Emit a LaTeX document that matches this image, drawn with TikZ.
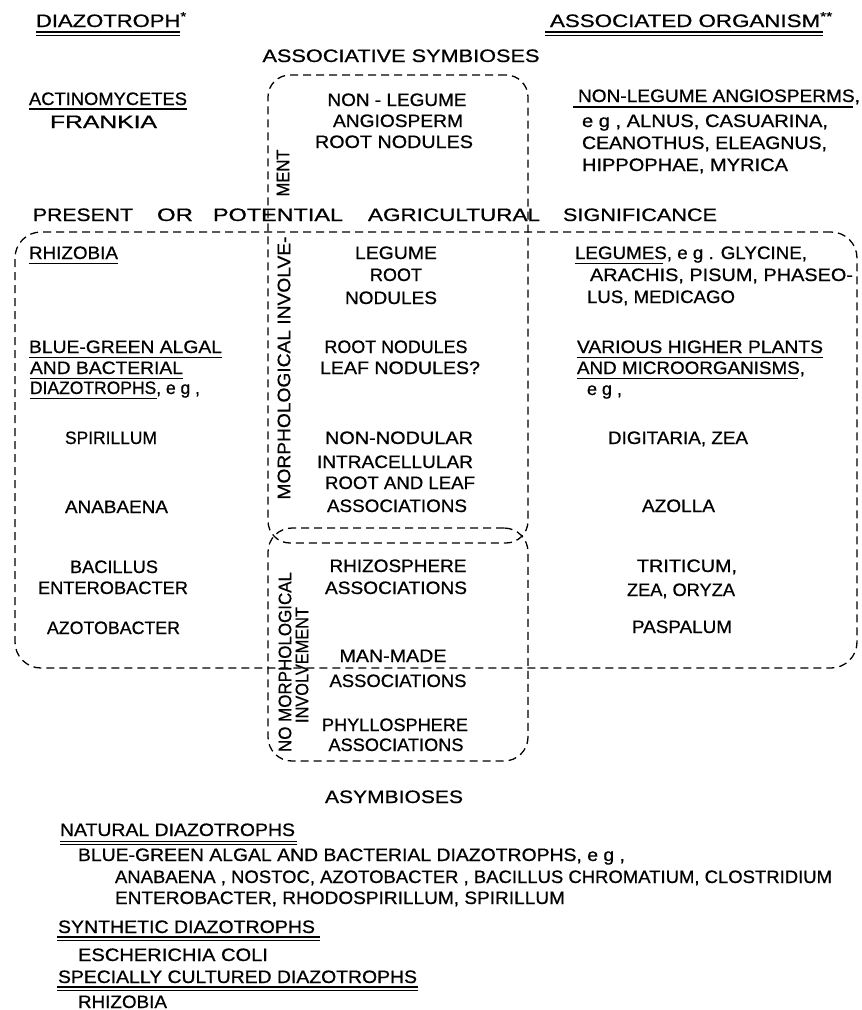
\documentclass[tikz,border=0pt]{standalone}
\usepackage{fontspec}
\setmainfont{Liberation Sans}
\newfontfamily\labfont{Liberation Sans}[FakeBold=0.7]
\usepackage{graphicx}
\newcommand\tw[2]{\resizebox{#1pt}{\height}{#2}}
\newcommand\lab{\labfont\fontsize{18}{21}\selectfont}
\tikzset{
  lbl/.style={inner sep=0pt, outer sep=0pt, font=\lab},
  lw/.style={lbl, anchor=base west},
  lc/.style={lbl, anchor=base},
  vt/.style={lbl, rotate=90},
  dbox/.style={draw, dash pattern=on 8pt off 5pt, line width=1.3pt, inner sep=0pt, outer sep=0pt},
  uline/.style={line width=1.1pt},
}
\begin{document}
\begin{tikzpicture}[x=1pt, y=-1pt]
\useasboundingbox (0,0) rectangle (862,1010);
\fill[white] (0,0) rectangle (862,1010);

% dashed boxes
\node[dbox, rounded corners=22pt, minimum width=260pt, minimum height=468pt] (ub) at (398,309) {};
\node[dbox, rounded corners=24pt, minimum width=260pt, minimum height=233pt] (lb) at (398,644.5) {};
\node[dbox, rounded corners=26pt, minimum width=842pt, minimum height=436pt] (bb) at (436,450) {};

% headers
\node[lw] (hdl) at (36,27) {\tw{151}{DIAZOTROPH\textsuperscript{*}}};
\node[lw] (hdr) at (550,27) {\tw{283}{ASSOCIATED ORGANISM\textsuperscript{**}}};
\draw[uline] (36,32) -- (180,32);
\draw[uline] (36,35.5) -- (180,35.5);
\draw[uline] (545,32) -- (823,32);
\draw[uline] (545,35.5) -- (823,35.5);

\node[lc] (as) at (401,62) {\tw{277}{ASSOCIATIVE SYMBIOSES}};

% top row
\node[lw] (act) at (29,105) {\tw{158}{ACTINOMYCETES}};
\draw[uline] (29,109) -- (187,109);
\node[lw] (fra) at (50,128) {\tw{107}{FRANKIA}};
\node[lc] (nl) at (397,106) {\tw{139}{NON - LEGUME}};
\node[lc] (ang) at (398,127) {\tw{130}{ANGIOSPERM}};
\node[lc] (rn1) at (394,148) {\tw{158}{ROOT NODULES}};
\node[lw] (nla) at (578,102) {\tw{282}{NON-LEGUME ANGIOSPERMS,}};
\draw[uline] (573,107) -- (853,107);
\node[lw] (eg1) at (582,127) {\tw{246}{e g , ALNUS, CASUARINA,}};
\node[lw] (cea) at (582,149) {\tw{245}{CEANOTHUS, ELEAGNUS,}};
\node[lw] (hip) at (582,171) {\tw{206}{HIPPOPHAE, MYRICA}};

% agricultural significance line
\node[lw] (p1) at (33,221) {\tw{100}{PRESENT}};
\node[lw] (p2) at (157,221) {\tw{36}{OR}};
\node[lw] (p3) at (213,221) {\tw{130}{POTENTIAL}};
\node[lw] (p4) at (368,221) {\tw{172}{AGRICULTURAL}};
\node[lw] (p5) at (563,221) {\tw{154}{SIGNIFICANCE}};

% left column
\node[lw] (rhz) at (29,259) {\tw{89}{RHIZOBIA}};
\draw[uline] (29,263.5) -- (118,263.5);
\node[lw] (bg1) at (29,353) {\tw{193}{BLUE-GREEN ALGAL}};
\draw[uline] (29,357.5) -- (222,357.5);
\node[lw] (bg2) at (30,374) {\tw{153}{AND BACTERIAL}};
\draw[uline] (30,378.5) -- (183,378.5);
\node[lw] (bg3) at (30,394) {\tw{170}{DIAZOTROPHS, e g ,}};
\draw[uline] (30,398.5) -- (157,398.5);
\node[lw] (spi) at (65,444) {\tw{92}{SPIRILLUM}};
\node[lw] (ana) at (65,513) {\tw{103}{ANABAENA}};
\node[lw] (bac) at (70,573) {\tw{88}{BACILLUS}};
\node[lw] (ent) at (38,594) {\tw{150}{ENTEROBACTER}};
\node[lw] (azo) at (47,634) {\tw{133}{AZOTOBACTER}};

% middle column
\node[lc] (leg) at (396,259) {\tw{82}{LEGUME}};
\node[lc] (root) at (396,281) {\tw{52}{ROOT}};
\node[lc] (nod) at (391,304) {\tw{92}{NODULES}};
\node[lc] (rn2) at (396,353) {\tw{143}{ROOT NODULES}};
\node[lc] (lfn) at (400,374) {\tw{160}{LEAF NODULES?}};
\node[lc] (nnd) at (399,444) {\tw{148}{NON-NODULAR}};
\node[lc] (itc) at (395,468) {\tw{156}{INTRACELLULAR}};
\node[lc] (ral) at (400,489) {\tw{150}{ROOT AND LEAF}};
\node[lc] (as1) at (397,512) {\tw{140}{ASSOCIATIONS}};
\node[lc] (rhs) at (398,572) {\tw{137}{RHIZOSPHERE}};
\node[lc] (as2) at (396,594) {\tw{142}{ASSOCIATIONS}};
\node[lc] (mm) at (393,662) {\tw{107}{MAN-MADE}};
\node[lc] (as3) at (398,687) {\tw{137}{ASSOCIATIONS}};
\node[lc] (phy) at (395,731) {\tw{146}{PHYLLOSPHERE}};
\node[lc] (as4) at (396,751) {\tw{135}{ASSOCIATIONS}};

% vertical labels
\node[vt] (ment) at (283,173) {\tw{47}{MENT}};
\node[vt] (morph) at (284,368) {\tw{263}{MORPHOLOGICAL INVOLVE-}};
\node[vt] (nomo) at (285,662) {\tw{180}{NO MORPHOLOGICAL}};
\node[vt] (invo) at (302,665) {\tw{116}{INVOLVEMENT}};

% right column
\node[lw] (lgs) at (575,259) {\tw{232}{LEGUMES, e g . GLYCINE,}};
\draw[uline] (575,263.5) -- (663,263.5);
\node[lw] (ara) at (590,281) {\tw{263}{ARACHIS, PISUM, PHASEO-}};
\node[lw] (lus) at (587,303) {\tw{148}{LUS, MEDICAGO}};
\node[lw] (var) at (577,353) {\tw{246}{VARIOUS HIGHER PLANTS}};
\draw[uline] (577,357.5) -- (823,357.5);
\node[lw] (mic) at (577,374) {\tw{228}{AND MICROORGANISMS,}};
\draw[uline] (577,378.5) -- (798,378.5);
\node[lw] (eg2) at (587,395) {\tw{35}{e g ,}};
\node[lw] (dig) at (608,444) {\tw{140}{DIGITARIA, ZEA}};
\node[lw] (azl) at (642,512) {\tw{73}{AZOLLA}};
\node[lw] (tri) at (637,572) {\tw{100}{TRITICUM,}};
\node[lw] (zea) at (627,596) {\tw{108}{ZEA, ORYZA}};
\node[lw] (pas) at (632,633) {\tw{100}{PASPALUM}};

% asymbioses
\node[lc] (asy) at (394,803) {\tw{138}{ASYMBIOSES}};
\node[lw] (nat) at (60,836) {\tw{235}{NATURAL DIAZOTROPHS}};
\draw[uline] (60,841.5) -- (297,841.5);
\draw[line width=0.7pt] (60,844.5) -- (297,844.5);
\node[lw] (bg4) at (78,861) {\tw{547}{BLUE-GREEN ALGAL AND BACTERIAL DIAZOTROPHS, e g ,}};
\node[lw] (an2) at (115,883) {\tw{717}{ANABAENA , NOSTOC, AZOTOBACTER , BACILLUS CHROMATIUM, CLOSTRIDIUM}};
\node[lw] (en2) at (115,904) {\tw{450}{ENTEROBACTER, RHODOSPIRILLUM, SPIRILLUM}};
\node[lw] (syn) at (58,933) {\tw{257}{SYNTHETIC DIAZOTROPHS}};
\draw[uline] (57,937) -- (320,937);
\draw[line width=0.7pt] (57,940) -- (320,940);
\node[lw] (eco) at (78,961) {\tw{190}{ESCHERICHIA COLI}};
\node[lw] (spc) at (58,983) {\tw{359}{SPECIALLY CULTURED DIAZOTROPHS}};
\draw[uline] (57,987) -- (418,987);
\draw[line width=0.7pt] (57,990) -- (418,990);
\node[lw] (rh2) at (78,1008) {\tw{89}{RHIZOBIA}};
\end{tikzpicture}
\end{document}
